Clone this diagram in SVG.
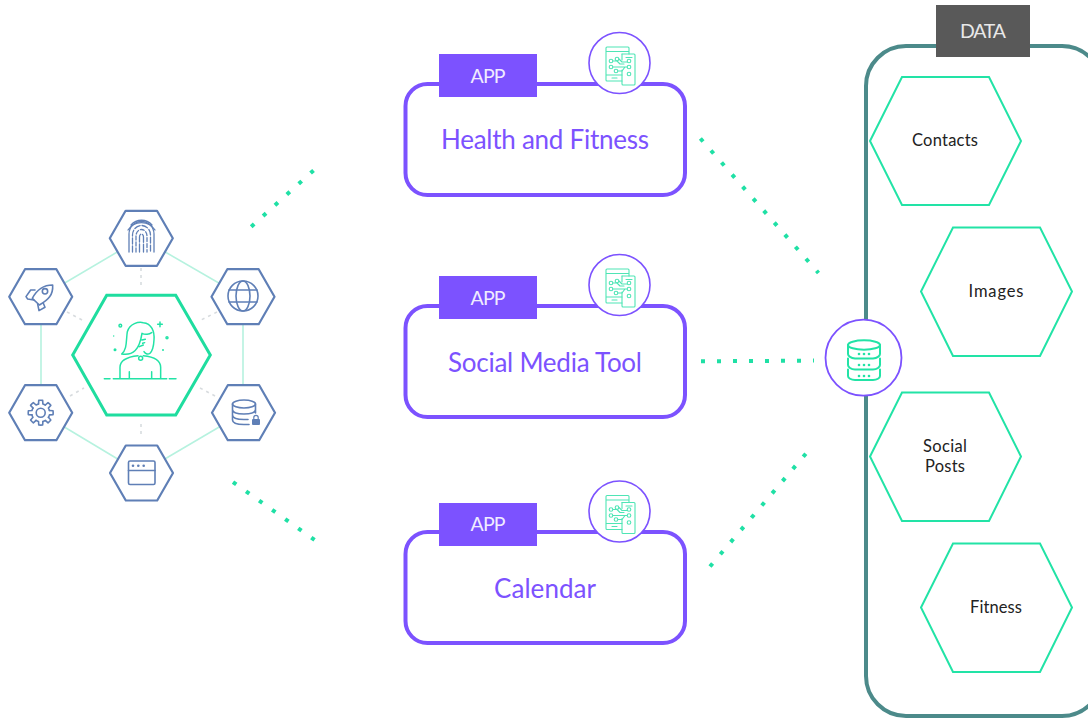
<svg xmlns="http://www.w3.org/2000/svg" xmlns:xlink="http://www.w3.org/1999/xlink" width="1088" height="721" viewBox="0 0 1088 721">
<style>
text{font-family:"Lato","Open Sans","Liberation Sans",sans-serif;text-anchor:middle}
.box{fill:#fff;stroke:#7c52ff;stroke-width:4}
.tag{fill:#7c52ff}
.tagt{fill:#f0ecff;font-size:19.500px}
.title{fill:#7c52ff;font-size:26px}
.cir{fill:#fff;stroke:#7c52ff;stroke-width:1.600}
.dh{fill:#fff;stroke:#22e3a6;stroke-width:2}
.dt{fill:#222;font-size:16.500px}
.dots{fill:none;stroke:#1fe0a5;stroke-width:4;stroke-dasharray:4 12}
.link{fill:none;stroke:#b6f2df;stroke-width:1.600}
.grey{fill:none;stroke:#d8dcdf;stroke-width:1.600;stroke-dasharray:3 4}
.hx{fill:#fff;stroke:#5f7fb6;stroke-width:2.200;stroke-linejoin:round}
.ic{fill:none;stroke:#5f7fb6;stroke-width:1.600;stroke-linecap:round;stroke-linejoin:round}
.gr{fill:none;stroke:#22e3a6;stroke-width:1.500;stroke-linecap:round;stroke-linejoin:round}
.chip{fill:none;stroke:#4fe5b5;stroke-width:1.100;stroke-linecap:round;stroke-linejoin:round}
.grd{fill:#22e3a6}
</style>
<defs>
<polygon id="sh" class="hx" points="-31.500,0 -15.700,-27.500 15.700,-27.500 31.500,0 15.700,27.500 -15.700,27.500"/>
<path id="seg" d="M8.730,-2.180L12.350,-1.960Q12.600,0 12.350,1.960L8.730,2.180A9,9 0 0 1 7.710,4.640"/>
<g id="chip" class="chip">
<path d="M622,81H607a1,1 0 0 1-1-1V48a1,1 0 0 1 1-1H628a1,1 0 0 1 1,1V54M606,51.500H629M606,75H622"/>
<path d="M622,54H634a1,1 0 0 1 1,1V84a1,1 0 0 1-1,1H623a1,1 0 0 1-1-1V70"/>
<path d="M626,57.500H632M612,78H617M622,54V60"/>
<circle cx="611" cy="61" r="1.800"/><circle cx="611" cy="67" r="1.800"/><circle cx="617" cy="59" r="1.800"/><circle cx="629" cy="61" r="1.800"/><circle cx="629" cy="67" r="1.800"/><circle cx="616" cy="71" r="1.800"/><circle cx="629" cy="74" r="1.800"/>
<path d="M613,67H627M619,59L622,62H627M618,71H622L625,67M613,61H617L620,64H624"/>
</g>
</defs>

<g id="connectors">
<path class="link" d="M141,238L41,297V413L141,473L243,413V297Z"/>
<path class="grey" d="M141,268V288M67,312L84,321M217,312L199,321M70,396L84,388M200,388L217,397M141,424V438"/>
<path class="dots" d="M251.200,226.700L314,170"/>
<path class="dots" d="M233,482.100L316,541"/>
<path class="dots" d="M700.400,138.500L818.500,273"/>
<path class="dots" d="M701,361.300L814,360.600"/>
<path class="dots" d="M710,566.500L806,453.500"/>
</g>

<g id="person">
<polygon points="72.700,355 106.700,295.300 175.700,295.300 210.300,355 175.700,415 106.700,415" fill="#fff" stroke="#1fdd9f" stroke-width="3" stroke-linejoin="miter"/>
<g class="gr" transform="translate(70,290) scale(.3333)" style="stroke-width:4.500">
<path d="M172,125C180,100 205,95 220,98C245,100 254,125 252,150C251,170 248,182 240,190C232,195 225,190 222,185M155,192C172,178 168,150 172,125M155,192C190,197 208,180 216,130C225,135 238,133 245,128M216,150L226,148M208,170L220,165M218,160L224,158"/>
<path d="M150,265V232C150,210 175,200 204,197M220,197C250,200 272,210 272,232V265M178,245V265M245,245V265"/>
<circle cx="212" cy="205" r="6"/>
<path d="M103,266H120M130,266H290M298,266H318"/>
<circle cx="151" cy="107" r="4"/><circle cx="291" cy="143" r="3"/>
<path d="M270,96V110M263,103H277"/>
</g>
<circle class="grd" cx="115" cy="349.700" r="1.500"/><circle class="grd" cx="163" cy="350" r="1"/><circle class="grd" cx="113.700" cy="336" r=".7"/>
</g>

<g id="sat-fingerprint">
<use xlink:href="#sh" href="#sh" x="141.300" y="238.300"/>
<g class="ic" style="stroke-width:1.300">
<path d="M129,252V234A12.500,12.500 0 0 1 154,234V252"/>
<path d="M132.500,252V235A9,9.500 0 0 1 150.500,235V252" stroke-dasharray="6 2"/>
<path d="M136,252V236A5.500,6.500 0 0 1 147,236V252" stroke-dasharray="4 2"/>
<path d="M139.500,252V237A2,3 0 0 1 143.500,237V252" stroke-dasharray="8 2"/>
<path d="M131,225A14,14 0 0 1 152,225M128,230A16,16 0 0 1 155,230"/>
</g>
</g>

<g id="sat-rocket">
<use xlink:href="#sh" href="#sh" x="40.700" y="296.700"/>
<g class="ic" transform="scale(.3333) translate(0,600)" style="stroke-width:4.800">
<path d="M158,255C130,255 110,270 97,295L118,315C145,300 160,285 158,255Z"/>
<path d="M105,270H92L78,290L83,297L101,300M130,310L135,322L117,332L113,312"/>
<circle cx="135" cy="274" r="8"/>
</g>
</g>

<g id="sat-globe">
<use xlink:href="#sh" href="#sh" x="243" y="296.700"/>
<g class="ic">
<circle cx="243" cy="296" r="15"/><ellipse cx="243" cy="296" rx="7" ry="15"/>
<path d="M229,290H257M229,302H257"/>
</g>
</g>

<g id="sat-gear">
<use xlink:href="#sh" href="#sh" x="40.700" y="412.700"/>
<g class="ic" transform="translate(40.700,412.700)">
<use xlink:href="#seg" href="#seg"/><use xlink:href="#seg" href="#seg" transform="rotate(45)"/><use xlink:href="#seg" href="#seg" transform="rotate(90)"/><use xlink:href="#seg" href="#seg" transform="rotate(135)"/><use xlink:href="#seg" href="#seg" transform="rotate(180)"/><use xlink:href="#seg" href="#seg" transform="rotate(225)"/><use xlink:href="#seg" href="#seg" transform="rotate(270)"/><use xlink:href="#seg" href="#seg" transform="rotate(315)"/>
<circle r="4.500"/>
</g>
</g>

<g id="sat-database">
<use xlink:href="#sh" href="#sh" x="243.500" y="412.700"/>
<g class="ic">
<ellipse cx="244" cy="404" rx="11.500" ry="4"/>
<path d="M232.500,404V420C232.500,423 238,424.500 244,424.500H249M232.500,409.500C232.500,412.500 238,414 244,414S255.500,412.500 255.500,409.500M255.500,404V413M232.500,415C232.500,418 238,419.500 244,419.500H248"/>
</g>
<rect x="252" y="419" width="8" height="6" rx="1" fill="#5f7fb6"/>
<path d="M253.800,419V417.500a2.200,2.200 0 0 1 4.400,0V419" fill="none" stroke="#5f7fb6" stroke-width="1.200"/>
</g>

<g id="sat-window">
<use xlink:href="#sh" href="#sh" x="141.500" y="473"/>
<g class="ic">
<rect x="128.500" y="461" width="26.500" height="23.500" rx="1.500"/>
<path d="M128.500,470.500H155"/>
</g>
<circle cx="133" cy="465.700" r="1.300" fill="#5f7fb6"/><circle cx="138.300" cy="465.700" r="1.300" fill="#5f7fb6"/><circle cx="143.700" cy="465.700" r="1.300" fill="#5f7fb6"/>
</g>

<g id="app-health">
<rect class="box" x="405.500" y="84" width="279.500" height="111" rx="22"/>
<rect class="tag" x="439" y="54" width="98" height="43"/>
<text class="tagt" x="488" y="83" textLength="35">APP</text>
<text class="title" x="545" y="148.500" textLength="208">Health and Fitness</text>
<circle class="cir" cx="619.500" cy="63" r="30.500"/>
<use xlink:href="#chip" href="#chip"/>
</g>

<g id="app-social">
<rect class="box" x="405.500" y="306" width="279.500" height="111" rx="22"/>
<rect class="tag" x="439" y="276" width="98" height="43"/>
<text class="tagt" x="488" y="305" textLength="35">APP</text>
<text class="title" x="545" y="371.500" textLength="194">Social Media Tool</text>
<circle class="cir" cx="619.500" cy="285" r="30.500"/>
<use xlink:href="#chip" href="#chip" y="222"/>
</g>

<g id="app-calendar">
<rect class="box" x="405.500" y="532" width="279.500" height="111" rx="22"/>
<rect class="tag" x="439" y="503" width="98" height="43"/>
<text class="tagt" x="488" y="531" textLength="35">APP</text>
<text class="title" x="545" y="597.500" textLength="102">Calendar</text>
<circle class="cir" cx="619.500" cy="511.500" r="30.500"/>
<use xlink:href="#chip" href="#chip" y="448.500"/>
</g>

<g id="data-store">
<rect x="866" y="46" width="236" height="670" rx="40" fill="#fff" stroke="#4c8a8a" stroke-width="4"/>
<rect x="936" y="5" width="94" height="52" fill="#595959"/>
<text x="983" y="38" font-size="19.500" fill="#e8e8e8" textLength="46">DATA</text>
</g>

<g id="data-contacts">
<polygon class="dh" points="870,141 902,77 989,77 1021,141 989,205 902,205"/>
<text class="dt" x="945" y="146" textLength="66">Contacts</text>
</g>
<g id="data-images">
<polygon class="dh" points="921,291.500 953,227.500 1040,227.500 1072,291.500 1040,356 953,356"/>
<text class="dt" x="996" y="297" textLength="55">Images</text>
</g>
<g id="data-social">
<polygon class="dh" points="870,456.500 902,392.500 989,392.500 1021,456.500 989,521 902,521"/>
<text class="dt" x="945" y="452" textLength="44">Social</text>
<text class="dt" x="945" y="472" textLength="40">Posts</text>
</g>
<g id="data-fitness">
<polygon class="dh" points="921,607.500 953,543.500 1040,543.500 1072,607.500 1040,672 953,672"/>
<text class="dt" x="996" y="613" textLength="52">Fitness</text>
</g>

<g id="db-hub">
<circle cx="863.500" cy="357.700" r="38" fill="#fff" stroke="#7c52ff" stroke-width="1.800"/>
<g class="gr" style="stroke-width:2">
<ellipse cx="864" cy="345" rx="16" ry="4.700"/>
<path d="M848,345V354C848,356 851,358 855,358.500H873C877,358 880,356 880,354V345M848,358.500V365C848,367 851,369.500 855,369.500H873C877,369.500 880,367 880,365V358.500M848,369.500V376C848,378 851,380 855,380H873C877,380 880,378 880,376V369.500"/>
</g>
<g class="grd">
<circle cx="859" cy="354" r="1.300"/><circle cx="864" cy="354" r="1.300"/><circle cx="869" cy="354" r="1.300"/>
<circle cx="859" cy="365" r="1.300"/><circle cx="864" cy="365" r="1.300"/><circle cx="869" cy="365" r="1.300"/>
<circle cx="859" cy="376" r="1.300"/><circle cx="864" cy="376" r="1.300"/><circle cx="869" cy="376" r="1.300"/>
</g>
</g>
</svg>
